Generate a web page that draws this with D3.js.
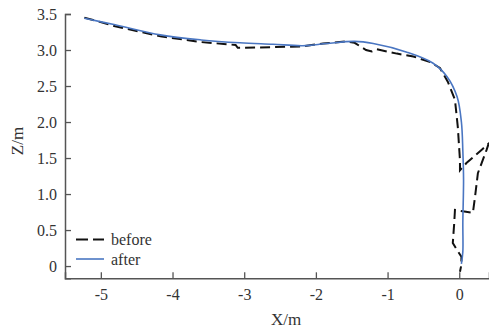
<!DOCTYPE html>
<html>
<head>
<meta charset="utf-8">
<script src="https://cdn.jsdelivr.net/npm/d3@7"></script>
<style>
  body { margin: 0; background: #fff; }
  text { font-family: "Liberation Serif", "Times New Roman", serif; fill: #333; }
</style>
</head>
<body>
<div id="chart"></div>
<script>
// trajectory before smoothing (dashed black)
const beforeX = [-5.23, -4.8, -4.17, -3.6, -3.12, -3.09, -2.6, -2.2, -1.9, -1.57, -1.46, -1.38, -1.3, -1.22, -1.15, -0.87, -0.64, -0.4, -0.27, -0.16, -0.06, -0.02, 0.01, 0.01,
                 0.1, 0.33, 0.41, 0.38, 0.26, 0.22, 0.19, 0.05, -0.06, -0.07, -0.09, -0.03, 0.03, 0.03, 0.01];
const beforeZ = [3.45, 3.33, 3.19, 3.11, 3.07, 3.03, 3.04, 3.05, 3.09, 3.12, 3.10, 3.05, 3.00, 2.98, 3.01, 2.95, 2.91, 2.83, 2.75, 2.56, 2.31, 1.93, 1.47, 1.33,
                 1.43, 1.63, 1.70, 1.61, 1.29, 0.96, 0.74, 0.76, 0.78, 0.60, 0.32, 0.22, 0.13, 0.02, -0.08];

// trajectory after smoothing (blue)
const afterX = [-5.23, -4.8, -4.17, -3.6, -3.06, -2.6, -2.18, -1.85, -1.46, -1.2, -0.73, -0.37, -0.17, -0.03, 0.03, 0.05, 0.06, 0.05, 0.05, 0.03];
const afterZ = [3.44, 3.35, 3.21, 3.14, 3.10, 3.08, 3.06, 3.09, 3.12, 3.09, 2.97, 2.82, 2.63, 2.35, 2.0, 1.6, 1.2, 0.6, 0.2, 0.03];

const xTicks = [-5, -4, -3, -2, -1, 0];
const zTicks = [0, 0.5, 1.0, 1.5, 2.0, 2.5, 3.0, 3.5];
const legendNames = ["before", "after"];

const W = 489, H = 328;
const margin = { top: 14, right: 0, bottom: 50, left: 65 };

const svg = d3.select("#chart").append("svg")
    .attr("width", W)
    .attr("height", H);

const x = d3.scaleLinear().domain([-5.5, 0.415]).range([margin.left, W - margin.right]);
const y = d3.scaleLinear().domain([-0.17, 3.5]).range([H - margin.bottom + 0.3, margin.top]);

svg.append("defs").append("clipPath").attr("id", "clip")
    .append("rect")
    .attr("x", margin.left).attr("y", 0)
    .attr("width", W - margin.left).attr("height", H - margin.bottom);

const line = d3.line()
    .x(d => x(d[0]))
    .y(d => y(d[1]));

const before = beforeX.map((v, i) => [v, beforeZ[i]]);
const after = afterX.map((v, i) => [v, afterZ[i]]);

const plot = svg.append("g").attr("clip-path", "url(#clip)");

plot.append("path")
    .datum(before)
    .attr("d", line)
    .attr("fill", "none")
    .attr("stroke", "#111")
    .attr("stroke-width", 2)
    .attr("stroke-dasharray", "10,5");

plot.append("path")
    .datum(after)
    .attr("d", line.curve(d3.curveCatmullRom))
    .attr("fill", "none")
    .attr("stroke", "#4a76c2")
    .attr("stroke-width", 1.6);

// axes
const xAxis = svg.append("g")
    .attr("transform", `translate(0,${y(-0.17)})`)
    .call(d3.axisBottom(x).tickValues(xTicks).tickSize(-6).tickPadding(8)
        .tickFormat(d => String(d)));

const yAxis = svg.append("g")
    .attr("transform", `translate(${margin.left},0)`)
    .call(d3.axisLeft(y).tickValues(zTicks).tickSize(-6).tickPadding(8)
        .tickFormat(d => d === 0 ? "0" : d3.format(".1f")(d)));

[xAxis, yAxis].forEach(a => {
    a.select(".domain").attr("stroke", "#555").attr("stroke-width", 1.5);
    a.selectAll(".tick line").attr("stroke", "#555").attr("stroke-width", 1.3);
    a.selectAll(".tick text").style("font-size", "16px").attr("fill", "#333");
});
xAxis.selectAll(".tick text").attr("dy", "0.85em");

// axis labels
svg.append("text")
    .attr("x", 286)
    .attr("y", 325)
    .attr("text-anchor", "middle")
    .style("font-size", "17px")
    .text("X/m");

svg.append("text")
    .attr("transform", `translate(23,141) rotate(-90)`)
    .attr("text-anchor", "middle")
    .style("font-size", "17px")
    .text("Z/m");

// legend
const legend = svg.append("g");
legendNames.forEach((name, i) => {
    const ly = 239.5 + i * 19.5;
    legend.append("line")
        .attr("x1", 76).attr("x2", 104)
        .attr("y1", ly).attr("y2", ly)
        .attr("stroke", i === 0 ? "#111" : "#4a76c2")
        .attr("stroke-width", i === 0 ? 2 : 1.6)
        .attr("stroke-dasharray", i === 0 ? "12,5" : null);
    legend.append("text")
        .attr("x", 111)
        .attr("y", ly + 5.5)
        .style("font-size", "16px")
        .text(name);
});
</script>
</body>
</html>
